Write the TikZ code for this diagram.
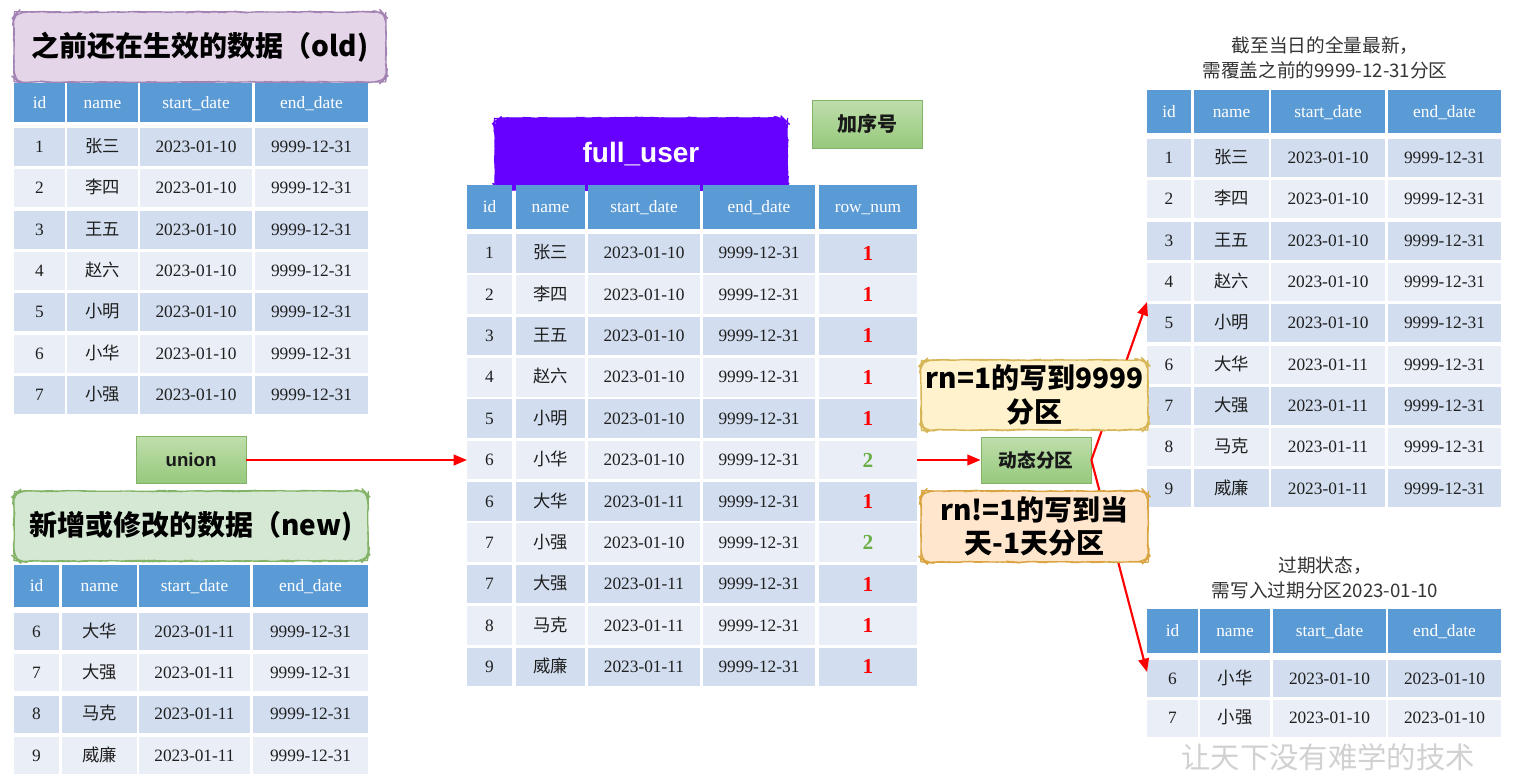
\documentclass[tikz,border=0pt]{standalone}
\usepackage{fontspec}
\setmainfont{Liberation Serif}
\newfontfamily\cjk{Noto Sans CJK SC}
\newfontfamily\arialf{Liberation Sans}
\usetikzlibrary{arrows.meta,decorations.pathmorphing}
\definecolor{hdrblue}{HTML}{5B9BD5}
\definecolor{rowdark}{HTML}{D2DEEF}
\definecolor{rowlight}{HTML}{EAEFF7}
\definecolor{oldfill}{HTML}{E4D5E8}
\definecolor{olddraw}{HTML}{A383B3}
\definecolor{newfill}{HTML}{D5E8D4}
\definecolor{newdraw}{HTML}{82B366}
\definecolor{fullfill}{HTML}{6600FF}
\definecolor{greentop}{HTML}{BFDEAC}
\definecolor{greenbot}{HTML}{96C97C}
\definecolor{yelfill}{HTML}{FFF2CC}
\definecolor{yeldraw}{HTML}{D6B656}
\definecolor{orafill}{HTML}{FFE6CC}
\definecolor{oradraw}{HTML}{D9A441}
\definecolor{rngreen}{HTML}{6AAE45}
\definecolor{celltext}{HTML}{1F1F1F}
\newcommand\tcell[7]{%
  \node[tc,#6,minimum width={(#3-(#2))*0.75pt},minimum height={#5*0.75pt}] (#1) at ({(#2+#3)/2},#4) {#7};}
\tikzset{
  tc/.style={inner sep=0pt,outer sep=0pt,text=celltext,text height=9pt,text depth=0.5pt,font=\fontsize{13}{15}\selectfont},
  hdr/.style={fill=hdrblue,text=white},
  rowA/.style={fill=rowdark},
  rowB/.style={fill=rowlight},
  cn/.style={font=\cjk\fontsize{13}{15}\selectfont},
  rnred/.style={text=red,font=\bfseries\fontsize{16}{18}\selectfont,text height=11pt},
  rngreen/.style={text=rngreen,font=\bfseries\fontsize{16}{18}\selectfont,text height=11pt},
  wavy/.style={decorate,decoration={random steps,segment length=4pt,amplitude=0.3pt},rounded corners=7pt},
  titlebox/.style={wavy,draw,line width=0.9pt,inner sep=0pt,font=\cjk\bfseries\fontsize{21}{25}\selectfont,text=black},
  greenbox/.style={draw=newdraw,line width=0.6pt,top color=greentop,bottom color=greenbot,inner sep=0pt,text=black!90},
  redarrow/.style={draw=red,line width=1.6pt,-{Triangle[length=10pt,width=8pt]}},
  note/.style={align=center,font=\cjk\fontsize{14}{19}\selectfont,text=black!80,inner sep=0pt}
}
\begin{document}
\begin{tikzpicture}[x=0.75pt,y=-0.75pt]
\useasboundingbox[fill=white] (0,0) rectangle (1516,775);

% ---------- old table ----------
\node[titlebox,draw=olddraw,fill=oldfill,minimum width=372*0.75pt,minimum height=70*0.75pt] (oldT) at (200,47) {之前还在生效的数据（old)};
\foreach \c/\xa/\xb/\t in {1/14/65/id,2/67/138/name,3/140/252/start\_date,4/255/368/end\_date}
  {\tcell{old-h\c}{\xa}{\xb}{102.5}{39}{hdr}{\t}}
\foreach \a/\b/\s/\e [count=\i] in {1/张三/2023-01-10/9999-12-31,2/李四/2023-01-10/9999-12-31,3/王五/2023-01-10/9999-12-31,4/赵六/2023-01-10/9999-12-31,5/小明/2023-01-10/9999-12-31,6/小华/2023-01-10/9999-12-31,7/小强/2023-01-10/9999-12-31}{
  \pgfmathsetmacro\yc{128+(\i-1)*41.3+19}
  \ifodd\i\relax\def\rs{rowA}\else\def\rs{rowB}\fi
  \tcell{old-r\i-c1}{14}{65}{\yc}{38}{\rs}{\a}
  \tcell{old-r\i-c2}{67}{138}{\yc}{38}{\rs,cn}{\b}
  \tcell{old-r\i-c3}{140}{252}{\yc}{38}{\rs}{\s}
  \tcell{old-r\i-c4}{255}{368}{\yc}{38}{\rs}{\e}
}

% ---------- new table ----------
\node[titlebox,draw=newdraw,fill=newfill,minimum width=354*0.75pt,minimum height=70*0.75pt] (newT) at (191,526) {新增或修改的数据（new)};
\foreach \c/\xa/\xb/\t in {1/14/59/id,2/62/137/name,3/139/250/start\_date,4/253/368/end\_date}
  {\tcell{new-h\c}{\xa}{\xb}{586}{42}{hdr}{\t}}
\foreach \a/\b/\s/\e [count=\i] in {6/大华/2023-01-11/9999-12-31,7/大强/2023-01-11/9999-12-31,8/马克/2023-01-11/9999-12-31,9/威廉/2023-01-11/9999-12-31}{
  \pgfmathsetmacro\yc{613+(\i-1)*41.3+18.5}
  \ifodd\i\relax\def\rs{rowA}\else\def\rs{rowB}\fi
  \tcell{new-r\i-c1}{14}{59}{\yc}{37}{\rs}{\a}
  \tcell{new-r\i-c2}{62}{137}{\yc}{37}{\rs,cn}{\b}
  \tcell{new-r\i-c3}{139}{250}{\yc}{37}{\rs}{\s}
  \tcell{new-r\i-c4}{253}{368}{\yc}{37}{\rs}{\e}
}

% ---------- union ----------
\node[greenbox,minimum width=110*0.75pt,minimum height=47*0.75pt,font=\arialf\bfseries\fontsize{14}{16}\selectfont] (union) at (191,460) {union};

% ---------- center table ----------
\node[titlebox,draw=fullfill,fill=fullfill,text=white,font=\arialf\bfseries\fontsize{21}{25}\selectfont,minimum width=292*0.75pt,minimum height=72*0.75pt] (fullT) at (641,154) {full\_user};
\node[greenbox,minimum width=110*0.75pt,minimum height=48*0.75pt,font=\cjk\bfseries\fontsize{15}{18}\selectfont] (addno) at (867,124) {加序号};
\foreach \c/\xa/\xb/\t in {1/467/512/id,2/516/585/name,3/588/700/start\_date,4/703/815/end\_date,5/819/917/row\_num}
  {\tcell{c-h\c}{\xa}{\xb}{207}{44}{hdr}{\t}}
\foreach \a/\b/\s/\e/\n/\nc [count=\i] in {1/张三/2023-01-10/9999-12-31/1/rnred,2/李四/2023-01-10/9999-12-31/1/rnred,3/王五/2023-01-10/9999-12-31/1/rnred,4/赵六/2023-01-10/9999-12-31/1/rnred,5/小明/2023-01-10/9999-12-31/1/rnred,6/小华/2023-01-10/9999-12-31/2/rngreen,6/大华/2023-01-11/9999-12-31/1/rnred,7/小强/2023-01-10/9999-12-31/2/rngreen,7/大强/2023-01-11/9999-12-31/1/rnred,8/马克/2023-01-11/9999-12-31/1/rnred,9/威廉/2023-01-11/9999-12-31/1/rnred}{
  \pgfmathsetmacro\yc{234+(\i-1)*41.35+19.25}
  \ifodd\i\relax\def\rs{rowA}\else\def\rs{rowB}\fi
  \tcell{c-r\i-c1}{467}{512}{\yc}{38.5}{\rs}{\a}
  \tcell{c-r\i-c2}{516}{585}{\yc}{38.5}{\rs,cn}{\b}
  \tcell{c-r\i-c3}{588}{700}{\yc}{38.5}{\rs}{\s}
  \tcell{c-r\i-c4}{703}{815}{\yc}{38.5}{\rs}{\e}
  \tcell{c-r\i-c5}{819}{917}{\yc}{38.5}{\rs,\nc}{\n}
}

% ---------- right top table ----------
\node[note] (rtT) at (1325,58) {截至当日的全量最新，\\需覆盖之前的9999-12-31分区};
\foreach \c/\xa/\xb/\t in {1/1147/1191/id,2/1194/1269/name,3/1271/1385/start\_date,4/1388/1501/end\_date}
  {\tcell{rt-h\c}{\xa}{\xb}{111.5}{43}{hdr}{\t}}
\foreach \a/\b/\s/\e [count=\i] in {1/张三/2023-01-10/9999-12-31,2/李四/2023-01-10/9999-12-31,3/王五/2023-01-10/9999-12-31,4/赵六/2023-01-10/9999-12-31,5/小明/2023-01-10/9999-12-31,6/大华/2023-01-11/9999-12-31,7/大强/2023-01-11/9999-12-31,8/马克/2023-01-11/9999-12-31,9/威廉/2023-01-11/9999-12-31}{
  \pgfmathsetmacro\yc{139+(\i-1)*41.3+19}
  \ifodd\i\relax\def\rs{rowA}\else\def\rs{rowB}\fi
  \tcell{rt-r\i-c1}{1147}{1191}{\yc}{38}{\rs}{\a}
  \tcell{rt-r\i-c2}{1194}{1269}{\yc}{38}{\rs,cn}{\b}
  \tcell{rt-r\i-c3}{1271}{1385}{\yc}{38}{\rs}{\s}
  \tcell{rt-r\i-c4}{1388}{1501}{\yc}{38}{\rs}{\e}
}

% ---------- right bottom table ----------
\node[note] (rbT) at (1325,578) {过期状态，\\需写入过期分区2023-01-10};
\foreach \c/\xa/\xb/\t in {1/1147/1198/id,2/1200/1270/name,3/1273/1386/start\_date,4/1388/1501/end\_date}
  {\tcell{rb-h\c}{\xa}{\xb}{631}{44}{hdr}{\t}}
\foreach \a/\b/\s/\e [count=\i] in {6/小华/2023-01-10/2023-01-10,7/小强/2023-01-10/2023-01-10}{
  \pgfmathsetmacro\yc{660+(\i-1)*39.5+18.5}
  \ifodd\i\relax\def\rs{rowA}\else\def\rs{rowB}\fi
  \tcell{rb-r\i-c1}{1147}{1198}{\yc}{37}{\rs}{\a}
  \tcell{rb-r\i-c2}{1200}{1270}{\yc}{37}{\rs,cn}{\b}
  \tcell{rb-r\i-c3}{1273}{1386}{\yc}{37}{\rs}{\s}
  \tcell{rb-r\i-c4}{1388}{1501}{\yc}{37}{\rs}{\e}
}

% ---------- dynamic partition ----------
\node[greenbox,minimum width=110*0.75pt,minimum height=46*0.75pt,font=\cjk\bfseries\fontsize{14}{17}\selectfont] (dyn) at (1036,460) {动态分区};
\coordinate (upTip) at (1147,302);
\coordinate (downTip) at (1147,672);

\draw[redarrow] (union.east) -- (union.east -| c-r6-c1.west);
\draw[redarrow] (c-r6-c5.east) -- (dyn.west);
\draw[redarrow] (dyn.east) -- (upTip);
\draw[redarrow] (dyn.east) -- (downTip);

\node[titlebox,draw=yeldraw,fill=yelfill,align=center,minimum width=227*0.75pt,minimum height=70*0.75pt] (rnOne) at (1034.5,395) {rn=1的写到9999\\分区};
\node[titlebox,draw=oradraw,fill=orafill,align=center,minimum width=227*0.75pt,minimum height=71*0.75pt] (rnNot) at (1034.5,526.5) {rn!=1的写到当\\天-1天分区};

% watermark
\node[font=\cjk\fontsize{22}{24}\selectfont,text=black!18,inner sep=0pt] (wm) at (1328,757) {让天下没有难学的技术};
\end{tikzpicture}
\end{document}
